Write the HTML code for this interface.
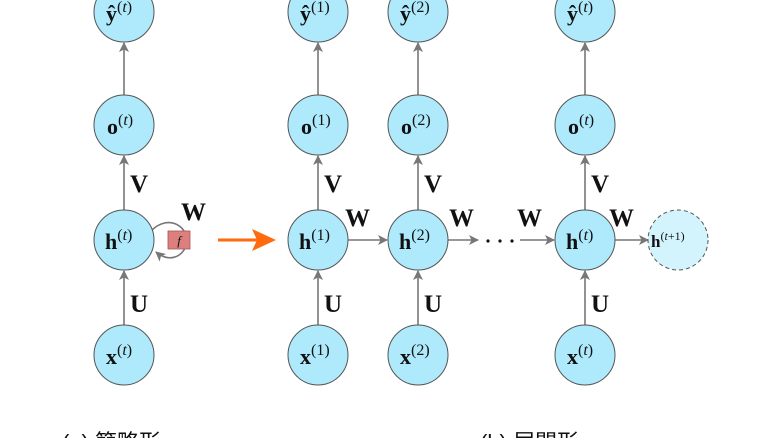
<!DOCTYPE html>
<html><head><meta charset="utf-8"><style>
html,body{margin:0;padding:0;background:#fff;width:778px;height:438px;overflow:hidden}
svg{display:block}
.n{fill:#aeeafc;stroke:#555;stroke-width:1}
.l{font-family:"Liberation Serif",serif;font-weight:bold;fill:#111}
.s{font-family:"Liberation Serif",serif;fill:#111}
.e{stroke:#777;stroke-width:1.6;fill:none}
</style></head><body>
<svg width="778" height="438" viewBox="0 0 778 438" xmlns="http://www.w3.org/2000/svg">
<defs>
<marker id="a" markerWidth="10" markerHeight="10" refX="9" refY="5" orient="auto" markerUnits="userSpaceOnUse">
<path d="M0,0 L10,5 L0,10 L2.5,5 Z" fill="#777"/></marker>
</defs>
<g class="e" marker-end="url(#a)">
<line x1="124" y1="325" x2="124" y2="271"/><line x1="124" y1="210" x2="124" y2="156"/><line x1="124" y1="96" x2="124" y2="43"/>
<line x1="318" y1="325" x2="318" y2="271"/><line x1="318" y1="210" x2="318" y2="156"/><line x1="318" y1="96" x2="318" y2="43"/>
<line x1="418" y1="325" x2="418" y2="271"/><line x1="418" y1="210" x2="418" y2="156"/><line x1="418" y1="96" x2="418" y2="43"/>
<line x1="585" y1="325" x2="585" y2="271"/><line x1="585" y1="210" x2="585" y2="156"/><line x1="585" y1="96" x2="585" y2="43"/>
<line x1="348" y1="240" x2="387" y2="240"/><line x1="448" y1="240" x2="478" y2="240"/><line x1="520" y1="240" x2="554" y2="240"/><line x1="615" y1="240" x2="648" y2="240"/>
</g>
<circle cx="488" cy="241" r="1.6" fill="#111"/><circle cx="500" cy="241" r="1.6" fill="#111"/><circle cx="512" cy="241" r="1.6" fill="#111"/>
<path d="M152,230 C168,215 186,225 187,240" class="e"/>
<path d="M187,240 C186,256 170,264 156,252" class="e" marker-end="url(#a)"/>
<rect x="168" y="231" width="22" height="18" fill="#db7f7f" stroke="#a55" stroke-width="0.8"/>
<text x="179" y="245" class="s" font-size="13" font-style="italic" text-anchor="middle">f</text>
<line x1="218" y1="240" x2="258" y2="240" stroke="#ff6a0e" stroke-width="3"/>
<path d="M252,229 L276,240 L252,251 L257,240 Z" fill="#ff6a0e"/>
<g>
<circle class="n" cx="124" cy="12" r="30"/><circle class="n" cx="124" cy="125" r="30"/><circle class="n" cx="124" cy="240" r="30"/><circle class="n" cx="124" cy="355" r="30"/>
<circle class="n" cx="318" cy="12" r="30"/><circle class="n" cx="318" cy="125" r="30"/><circle class="n" cx="318" cy="240" r="30"/><circle class="n" cx="318" cy="355" r="30"/>
<circle class="n" cx="418" cy="12" r="30"/><circle class="n" cx="418" cy="125" r="30"/><circle class="n" cx="418" cy="240" r="30"/><circle class="n" cx="418" cy="355" r="30"/>
<circle class="n" cx="585" cy="12" r="30"/><circle class="n" cx="585" cy="125" r="30"/><circle class="n" cx="585" cy="240" r="30"/><circle class="n" cx="585" cy="355" r="30"/>
<circle cx="678" cy="240" r="30" fill="#d3f4fd" stroke="#555" stroke-dasharray="4,3"/>
</g>
<g class="l" font-size="22">
<text x="106" y="21">ŷ<tspan class="s" font-weight="normal" font-size="16" dy="-9">(<tspan font-style="italic">t</tspan>)</tspan></text>
<text x="107" y="134">o<tspan class="s" font-weight="normal" font-size="16" dy="-9">(<tspan font-style="italic">t</tspan>)</tspan></text>
<text x="105" y="249">h<tspan class="s" font-weight="normal" font-size="16" dy="-9">(<tspan font-style="italic">t</tspan>)</tspan></text>
<text x="106" y="364">x<tspan class="s" font-weight="normal" font-size="16" dy="-9">(<tspan font-style="italic">t</tspan>)</tspan></text>
<text x="300" y="21">ŷ<tspan class="s" font-weight="normal" font-size="16" dy="-9">(1)</tspan></text>
<text x="301" y="134">o<tspan class="s" font-weight="normal" font-size="16" dy="-9">(1)</tspan></text>
<text x="299" y="249">h<tspan class="s" font-weight="normal" font-size="16" dy="-9">(1)</tspan></text>
<text x="300" y="364">x<tspan class="s" font-weight="normal" font-size="16" dy="-9">(1)</tspan></text>
<text x="400" y="21">ŷ<tspan class="s" font-weight="normal" font-size="16" dy="-9">(2)</tspan></text>
<text x="401" y="134">o<tspan class="s" font-weight="normal" font-size="16" dy="-9">(2)</tspan></text>
<text x="399" y="249">h<tspan class="s" font-weight="normal" font-size="16" dy="-9">(2)</tspan></text>
<text x="400" y="364">x<tspan class="s" font-weight="normal" font-size="16" dy="-9">(2)</tspan></text>
<text x="567" y="21">ŷ<tspan class="s" font-weight="normal" font-size="16" dy="-9">(<tspan font-style="italic">t</tspan>)</tspan></text>
<text x="568" y="134">o<tspan class="s" font-weight="normal" font-size="16" dy="-9">(<tspan font-style="italic">t</tspan>)</tspan></text>
<text x="566" y="249">h<tspan class="s" font-weight="normal" font-size="16" dy="-9">(<tspan font-style="italic">t</tspan>)</tspan></text>
<text x="567" y="364">x<tspan class="s" font-weight="normal" font-size="16" dy="-9">(<tspan font-style="italic">t</tspan>)</tspan></text>
<text x="651" y="247" font-size="17">h<tspan class="s" font-weight="normal" font-size="12" dy="-7">(<tspan font-style="italic">t</tspan>+1)</tspan></text>
</g>
<g class="l" font-size="25">
<text x="130" y="192">V</text><text x="324" y="192">V</text><text x="424" y="192">V</text><text x="591" y="192">V</text>
<text x="130" y="312">U</text><text x="324" y="312">U</text><text x="424" y="312">U</text><text x="591" y="312">U</text>
<text x="181" y="220">W</text><text x="345" y="226">W</text><text x="449" y="226">W</text><text x="517" y="226">W</text><text x="609" y="226">W</text>
</g>
<g font-family="'Liberation Sans','Noto Sans CJK JP',sans-serif" font-size="22" fill="#111">
<text x="62" y="450">(a) 簡略形</text>
<text x="480" y="450">(b) 展開形</text>
</g>
</svg>
</body></html>
